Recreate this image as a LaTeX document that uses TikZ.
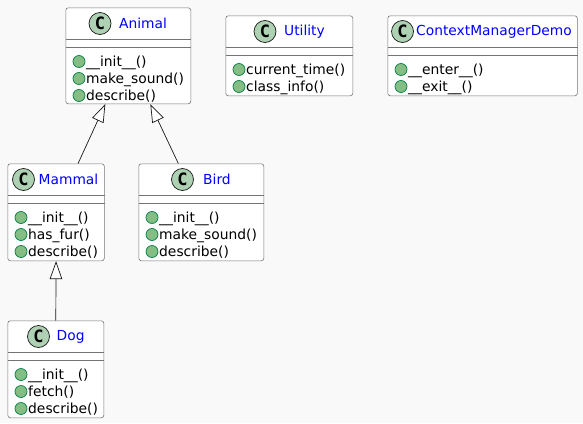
\documentclass[tikz,border=0pt]{standalone}
\usepackage{fontspec}
\setmainfont{DejaVu Sans}
\newfontfamily\circlefont{DejaVu Sans Mono}
\usepackage{xcolor}
\usetikzlibrary{arrows.meta,positioning,calc}
\definecolor{pagegray}{HTML}{F9F9F9}
\definecolor{edgegray}{HTML}{181818}
\definecolor{classgreen}{HTML}{ADD1B2}
\definecolor{dotgreen}{HTML}{84BE84}
\definecolor{dotedge}{HTML}{038048}
\tikzset{
  classbox/.style={draw=edgegray!60,line width=0.6pt,fill=white,rounded corners=2.5pt,anchor=north west,inner sep=0pt},
  classmark/.style={circle,draw=edgegray,line width=0.7pt,fill=classgreen,minimum size=22pt,inner sep=0pt,font=\circlefont\fontsize{17}{17}\selectfont\bfseries},
  classtitle/.style={anchor=west,inner sep=0pt,text=blue,font=\fontsize{13.8}{16}\selectfont},
  memberdot/.style={circle,draw=dotedge,line width=0.7pt,fill=dotgreen,minimum size=12pt,inner sep=0pt},
  membertext/.style={anchor=base west,inner sep=0pt,text=black,font=\fontsize{13.85}{16}\selectfont},
  divider/.style={draw=edgegray!60,line width=0.6pt},
  extends/.style={draw=edgegray,line width=0.7pt,-{Triangle[open,fill=white,length=18pt,width=12.5pt]}},
}
% #1 name, #2 left, #3 top, #4 width, #5 height, #6 mark x, #7 title x, #8 title, #9 members
\newcommand{\umlclass}[9]{
  \node[classbox,minimum width=#4pt,minimum height=#5pt] (#1) at (#2,#3) {};
  \node[classmark] (#1-mark) at (#6,#3+16) {C};
  \node[classtitle] (#1-title) at (#7,#3+16) {#8};
  \draw[divider] ([yshift=-32pt]#1.north west) -- ([yshift=-32pt]#1.north east);
  \draw[divider] ([yshift=-40pt]#1.north west) -- ([yshift=-40pt]#1.north east);
  \foreach \m [count=\i] in {#9} {
    \node[memberdot] (#1-dot\i) at (#2+13.5,#3+37+17*\i) {};
    \node[membertext] (#1-member\i) at (#2+20.5,#3+41.5+17*\i) {\m};
  }
}
\begin{document}
\begin{tikzpicture}[x=1pt,y=-1pt]
  % Page
  \fill[pagegray] (0,0) rectangle (583,423);
  \useasboundingbox (0,0) rectangle (583,423);
  % Classes
  \umlclass{animal}{65.5}{7.5}{125}{96}{100}{119}{Animal}{\_\_init\_\_(),make\_sound(),describe()}
  \umlclass{utility}{225.5}{15.5}{127}{80}{265}{284}{Utility}{current\_time(),class\_info()}
  \umlclass{demo}{387.5}{15.5}{189.5}{80}{402.5}{416}{ContextManagerDemo}{\_\_enter\_\_(),\_\_exit\_\_()}
  \umlclass{mammal}{7.5}{163.5}{96.5}{97}{23.5}{38.5}{Mammal}{\_\_init\_\_(),has\_fur(),describe()}
  \umlclass{bird}{138.5}{163.5}{125}{97}{182.5}{203}{Bird}{\_\_init\_\_(),make\_sound(),describe()}
  \umlclass{dog}{7.5}{320.5}{96}{97}{38.5}{56.5}{Dog}{\_\_init\_\_(),fetch(),describe()}
  % Inheritance
  \draw[extends] ([xshift=22pt]mammal.north) -- ([xshift=-23pt]animal.south);
  \draw[extends] ([xshift=-23pt]bird.north) -- ([xshift=22pt]animal.south);
  \draw[extends] (dog.north) -- (mammal.south);
\end{tikzpicture}
\end{document}
